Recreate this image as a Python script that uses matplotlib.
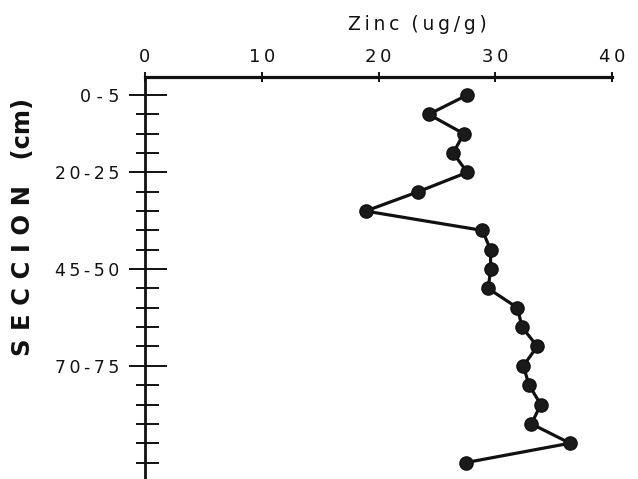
import numpy as np
import matplotlib
matplotlib.use("Agg")
import matplotlib.pyplot as plt

# Sediment core sections (cm) and zinc concentration (ug/g)
sections = ["0-5", "5-10", "10-15", "15-20", "20-25", "25-30", "30-35", "35-40",
            "40-45", "45-50", "50-55", "55-60", "60-65", "65-70", "70-75", "75-80",
            "80-85", "85-90", "90-95", "95-100"]
zinc = [27.6, 24.3, 27.3, 26.4, 27.6, 23.4, 18.9, 28.9, 29.6, 29.6,
        29.4, 31.9, 32.3, 33.6, 32.4, 32.9, 33.9, 33.1, 36.4, 27.5]

labelled = {0: "0 - 5", 4: "20-25", 9: "45-50", 14: "70-75"}
x_ticks = [0, 10, 20, 30, 40]

THIN = "\u2009"


def spaced(s, gap=THIN):
    """Open up the lettering a little, like stencilled labels."""
    return gap.join(s)


fig = plt.figure(figsize=(6.38, 4.79), dpi=100)
fig.patch.set_facecolor("white")
pos = [145 / 638, 0.0, (612 - 145) / 638, 1 - 76.7 / 479]
ax = fig.add_axes(pos)

y = np.arange(len(sections))
ax.plot(zinc, y, color="#111111", lw=2.3, marker="o", ms=9.5,
        mfc="#1a1a1a", mec="#111111", zorder=3, clip_on=False)

ax.set_xlim(0, 40)
ax.set_ylim(19.85, -0.946)

for side in ("right", "bottom"):
    ax.spines[side].set_visible(False)
ax.spines["top"].set_linewidth(2.3)
ax.spines["left"].set_linewidth(2.0)
ax.spines["top"].set_color("#111111")
ax.spines["left"].set_color("#111111")

# x axis along the top
ax.xaxis.tick_top()
ax.set_xticks(x_ticks)
ax.set_xticklabels([spaced(str(v)) for v in x_ticks])
ax.tick_params(axis="x", direction="inout", length=7, width=1.4, pad=4,
               labelsize=13, colors="#111111")

major = sorted(labelled)
minor = [i for i in y if i not in labelled]
ax.set_yticks(major)
ax.set_yticklabels([spaced(labelled[i].replace(" ", "")) if i else "0 - 5"
                    for i in major])
ax.set_yticks(minor, minor=True)
ax.tick_params(axis="y", which="major", direction="out", length=11.5, width=1.4,
               pad=7, labelsize=12.5, colors="#111111")
ax.tick_params(axis="y", which="minor", direction="out", length=6.5, width=1.4,
               colors="#111111")

# inner part of the section ticks
ax2 = ax.twinx()
ax2.set_ylim(ax.get_ylim())
ax2.yaxis.tick_left()
ax2.set_yticks(major)
ax2.set_yticks(minor, minor=True)
ax2.set_yticklabels([])
ax2.tick_params(axis="y", which="major", direction="in", length=16, width=1.4,
                colors="#111111")
ax2.tick_params(axis="y", which="minor", direction="in", length=10, width=1.4,
                colors="#111111")
for s in ax2.spines.values():
    s.set_visible(False)
ax2.patch.set_visible(False)

fig.text(417 / 638, 1 - 25 / 479, spaced("Zinc") + "  " + spaced("(ug/g)"),
         ha="center", va="center", fontsize=13.5, color="#111111")
fig.text(23 / 638, 1 - 227 / 479, "S E C C I O N   (cm)", ha="center", va="center",
         rotation=90, fontsize=17.5, fontweight="bold", color="#111111")

fig.savefig("out.png", dpi=100)
